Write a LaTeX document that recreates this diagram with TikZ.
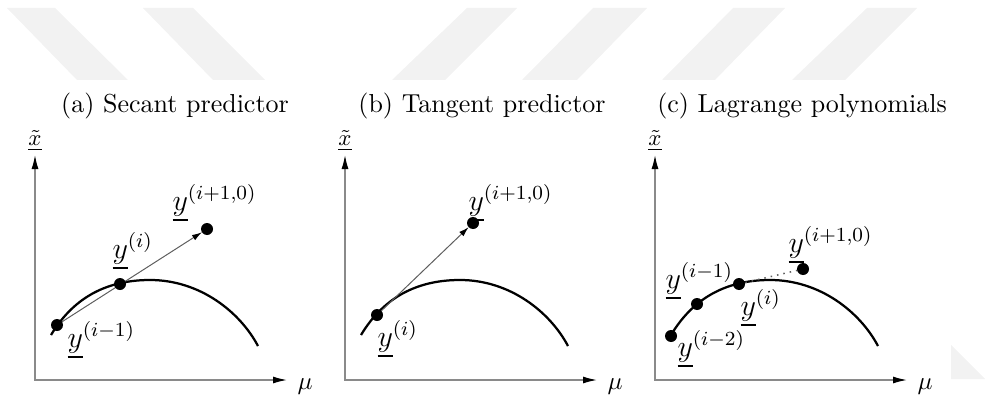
\documentclass[tikz,border=0pt]{standalone}
\usepackage{amsmath,amssymb}
\usepackage{tikz}
\usetikzlibrary{arrows.meta}
\definecolor{axisgray}{HTML}{8A8A8A}
\definecolor{linegray}{HTML}{5E5E5E}
\definecolor{markgray}{HTML}{F2F2F2}

\begin{document}
\begin{tikzpicture}[x=0.4pt, y=0.4pt,
  axtip/.tip={Latex[length=5.6pt,width=2.8pt,color=black]},
  sectip/.tip={Latex[length=4pt,width=2.4pt,color=black]},
  axis/.style={axisgray, line width=0.55pt},
  curve/.style={black, line width=0.9pt},
  guide/.style={linegray, line width=0.4pt},
  dot/.style={circle, fill=black, inner sep=0pt, minimum size=4.8pt},
  lab/.style={anchor=base west, inner sep=0pt, font=\large},
  caption/.style={anchor=base, inner sep=0pt, font=\fontsize{10.4}{12}\selectfont}]
  \useasboundingbox (0,0) rectangle (985,394);
  % faint stripes of the scan
  \fill[markgray] (7,386) -- (55,386) -- (128,314) -- (77,314) -- cycle;
  \fill[markgray] (143,386) -- (193,386) -- (265,314) -- (213,314) -- cycle;
  \fill[markgray] (467,386) -- (517,386) -- (445,314) -- (392,314) -- cycle;
  \fill[markgray] (593,386) -- (647,386) -- (577,314) -- (522,314) -- cycle;
  \fill[markgray] (733,386) -- (785,386) -- (715,314) -- (662,314) -- cycle;
  \fill[markgray] (867,386) -- (917,386) -- (845,314) -- (792,314) -- cycle;
  \fill[markgray] (951,49) -- (951,15) -- (985,15) -- cycle;
  % captions
  \node[caption] (capa) at (175,281) {(a) Secant predictor};
  \node[caption] (capb) at (482,281) {(b) Tangent predictor};
  \node[caption] (capc) at (802,281) {(c) Lagrange polynomials};
  % axes and curve, same in each panel
  \foreach \p/\ox in {a/35,b/345,c/655}{
    \begin{scope}[shift={(\ox,14)}]
      \coordinate (\p-o) at (0,0);
      \coordinate (\p-x) at (252,0);
      \coordinate (\p-y) at (0,225);
      \draw[axis, axtip-axtip] (\p-y) -- (\p-o) -- (\p-x);
      \node[font=\small, anchor=south, inner sep=0pt] (\p-xl) at (0,229) {$\underline{\tilde{x}}$};
      \node[anchor=base west, inner sep=0pt] (\p-mu) at (262,-9) {$\mu$};
      \draw[curve] (16,45) .. controls (40,85) and (75,100) .. (115,100)
        .. controls (165,100) and (205,68) .. (223,34);
    \end{scope}
  }
  % (a) secant
  \begin{scope}[shift={(35,14)}]
    \coordinate (a1) at (22,55);
    \coordinate (a2) at (85,96);
    \coordinate (a3) at (172,151);
    \draw[guide, -sectip, shorten >=2.4pt] (a1) -- (a3);
    \foreach \d in {a1,a2,a3} \node[dot] (\d-dot) at (\d) {};
    \node[lab] (la3) at (137,170) {$\underline{y}^{(i+1,0)}$};
    \node[lab] (la2) at (77,122) {$\underline{y}^{(i)}$};
    \node[lab] (la1) at (32,33) {$\underline{y}^{(i-1)}$};
  \end{scope}
  % (b) tangent
  \begin{scope}[shift={(345,14)}]
    \coordinate (b1) at (32,65);
    \coordinate (b2) at (128,157);
    \draw[guide, -sectip, shorten >=2.4pt] (b1) -- (b2);
    \foreach \d in {b1,b2} \node[dot] (\d-dot) at (\d) {};
    \node[lab] (lb2) at (123,170) {$\underline{y}^{(i+1,0)}$};
    \node[lab] (lb1) at (32,34) {$\underline{y}^{(i)}$};
  \end{scope}
  % (c) lagrange
  \begin{scope}[shift={(655,14)}]
    \coordinate (c1) at (16,44);
    \coordinate (c2) at (42,76);
    \coordinate (c3) at (84,96);
    \coordinate (c4) at (148,111);
    \draw[guide, line width=0.6pt, dotted] (c3) -- (c4);
    \foreach \d in {c1,c2,c3,c4} \node[dot] (\d-dot) at (\d) {};
    \node[lab] (lc4) at (133,128) {$\underline{y}^{(i+1,0)}$};
    \node[lab] (lc2) at (10,92) {$\underline{y}^{(i-1)}$};
    \node[lab] (lc3) at (85,65) {$\underline{y}^{(i)}$};
    \node[lab] (lc1) at (22,24) {$\underline{y}^{(i-2)}$};
  \end{scope}
\end{tikzpicture}
\end{document}
